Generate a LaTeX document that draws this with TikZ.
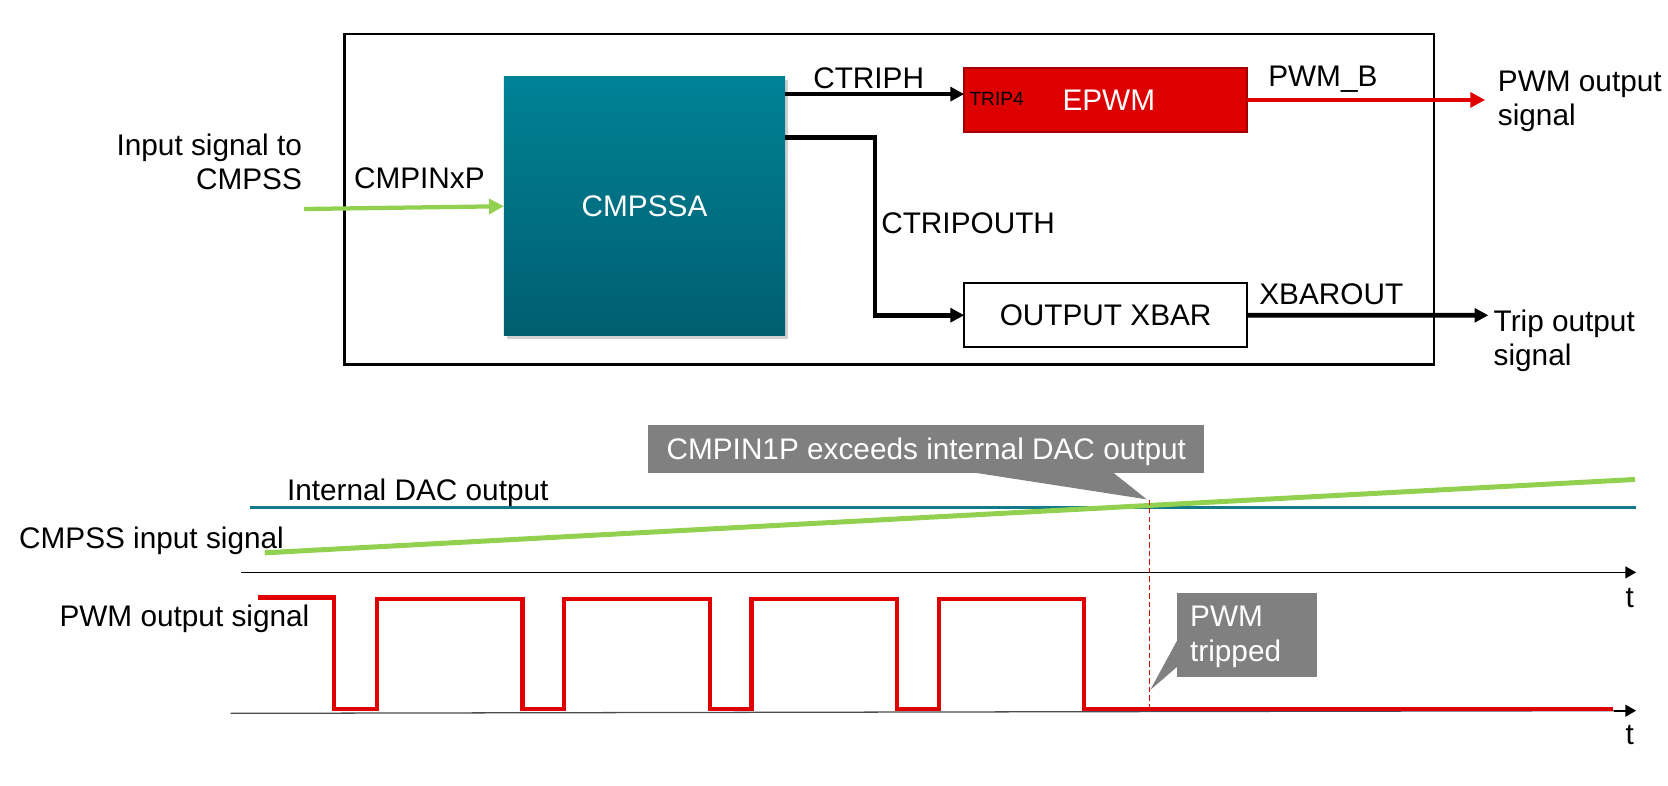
\documentclass[tikz,border=0pt]{standalone}
\usepackage{fontspec}
\setmainfont{Liberation Sans}
\usetikzlibrary{arrows.meta}
\definecolor{cmptop}{HTML}{008296}
\definecolor{cmpbot}{HTML}{005E70}
\definecolor{epwmfill}{HTML}{DD0000}
\definecolor{epwmdraw}{HTML}{A00000}
\definecolor{wavered}{HTML}{E00000}
\definecolor{sigreen}{HTML}{92D050}
\definecolor{dacteal}{HTML}{127A8A}
\definecolor{callgray}{HTML}{808080}
\begin{document}
\begin{tikzpicture}[x=1pt,y=-1pt,
  every node/.style={font=\fontsize{28}{33}\selectfont, inner sep=0pt, outer sep=0pt},
  lbl/.style={anchor=base west},
  rlbl/.style={anchor=base east},
  smalllbl/.style={anchor=base west, font=\fontsize{18}{21}\selectfont},
  whitelbl/.style={anchor=base west, text=white},
  blkarrow/.style={line width=4.5pt, -{Triangle[length=13pt,width=13pt]}},
  blkline/.style={line width=4.5pt},
  redarrow/.style={line width=4.5pt, wavered, -{Triangle[length=14pt,width=14pt]}},
  grnarrow/.style={line width=4pt, sigreen, -{Triangle[length=14pt,width=14pt]}},
  axisline/.style={line width=1.6pt, -{Triangle[length=10pt,width=11pt]}},
  waveline/.style={line width=4pt, wavered},
  calloutbox/.style={fill=callgray, text=white, anchor=north west}
]
\useasboundingbox (0,0) rectangle (1569,739.3);

% ---------- block diagram ----------
\node[draw, line width=2.5pt, minimum width=1025pt, minimum height=311pt, anchor=north west] (outer) at (324,32) {};

\fill[black!18] (477,75) rectangle (741.5,319);
\node[top color=cmptop, bottom color=cmpbot, text=white, minimum width=264.5pt, minimum height=244pt, anchor=north west] (cmp) at (474,72) {CMPSSA};

\node[fill=epwmfill, draw=epwmdraw, line width=2pt, text=white, minimum width=266pt, minimum height=60pt, anchor=north west] (epwm) at (907,64) {\hspace*{6pt}EPWM};
\node[smalllbl] (trip4) at (912,99.7) {TRIP4};

\node[draw, line width=2pt, fill=white, minimum width=266pt, minimum height=60pt, anchor=north west] (xbar) at (907,266.5) {OUTPUT XBAR};

\coordinate (c1) at (0,88.5);
\coordinate (c2) at (0,129);
\coordinate (turn) at (823,0);
\coordinate (gin) at (286,196.6);
\coordinate (pwmend) at (1397,94);
\coordinate (tripend) at (1400,296.6);

\draw[blkarrow] (c1 -| cmp.east) -- (c1 -| epwm.west);
\draw[blkarrow] (c2 -| cmp.east) -- (c2 -| turn) |- (xbar.west);
\draw[redarrow] (epwm.east) -- (pwmend);
\draw[blkarrow] (xbar.east) -- (tripend);
\draw[grnarrow] (gin) -- (cmp.west);

\node[rlbl] (in1) at (284,145.8) {Input signal to};
\node[rlbl] (in2) at (284,178.7) {CMPSS};
\node[lbl] (cmpin) at (333,177) {CMPINxP};
\node[lbl] (ctriph) at (765,83) {CTRIPH};
\node[lbl] (ctripouth) at (829,220) {CTRIPOUTH};
\node[lbl] (pwmb) at (1193,81) {PWM\_B};
\node[lbl] (xbarout) at (1184.6,286) {XBAROUT};
\node[lbl] (po1) at (1409,86.2) {PWM output};
\node[lbl] (po2) at (1409,117.6) {signal};
\node[lbl] (to1) at (1405,312) {Trip output};
\node[lbl] (to2) at (1405,344) {signal};

% ---------- waveforms ----------
\draw[dacteal, line width=2.8pt] (235,477) -- (1539,477);
\draw[sigreen, line width=4.7pt] (249,520) -- (1538,451);

\draw[axisline] (227,538.4) -- (1539,538.4);
\draw[black!70, line width=1.2pt] (217,671) -- (1525,668.5);
\draw[axisline] (1518,668.5) -- (1539,668.5);

\draw[wavered, line width=1pt, dash pattern=on 5pt off 3pt] (1081,470) -- (1081,668);

\draw[waveline] (243,562) -- (314.5,562) -- (314.5,667) -- (354.4,667) -- (354.4,563.5)
  -- (491.4,563.5) -- (491.4,667) -- (530.6,667) -- (530.6,563.5)
  -- (668,563.5) -- (668,667) -- (707,667) -- (707,563.5)
  -- (844,563.5) -- (844,667) -- (883,667) -- (883,563.5)
  -- (1020,563.5) -- (1020,667) -- (1517.6,667);

\node[lbl] (dac) at (270,471) {Internal DAC output};
\node[lbl] (cin) at (18,515.6) {CMPSS input signal};
\node[lbl] (pout) at (56,589.5) {PWM output signal};
\node[anchor=base] (t1) at (1533,571) {t};
\node[anchor=base] (t2) at (1533,700) {t};

% callouts
\node[calloutbox, minimum width=522.7pt, minimum height=45pt, text height=20pt, text depth=0pt] (call1) at (610,400) {CMPIN1P exceeds internal DAC output};
\coordinate (tip1) at (1078.7,469.7);
\fill[callgray] (916,444.5) -- (tip1) -- (1047,444.5) -- cycle;

\node[calloutbox, minimum width=131.6pt, minimum height=79.1pt] (call2) at (1107,557.5) {};
\coordinate (tip2) at (1082,649);
\fill[callgray] (1107.5,602) -- (tip2) -- (1107.5,627) -- cycle;
\node[whitelbl] (tr1) at (1119.5,589) {PWM};
\node[whitelbl] (tr2) at (1119.5,622.4) {tripped};
\end{tikzpicture}
\end{document}
